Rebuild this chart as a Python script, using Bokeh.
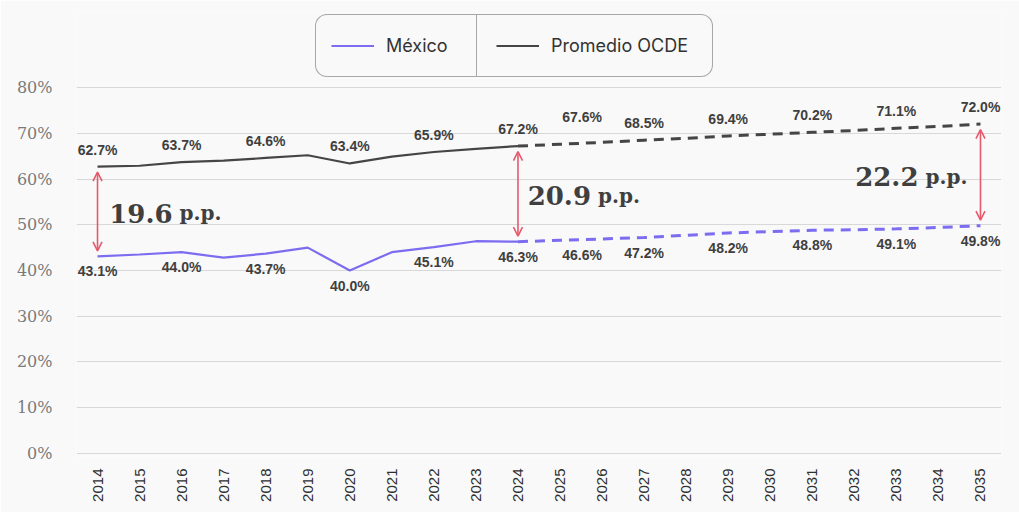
import numpy as np
from bokeh.plotting import figure
from bokeh.models import (ColumnDataSource, Range1d, FixedTicker, PrintfTickFormatter,
                          Arrow, OpenHead, Legend, LegendItem)
from bokeh.core.properties import value
from bokeh.embed import file_html
from bokeh.resources import INLINE

# ---------------- data ----------------
years_hist = [2014, 2015, 2016, 2017, 2018, 2019, 2020, 2021, 2022, 2023, 2024]
mexico_hist = [43.1, 43.5, 44.0, 42.8, 43.7, 45.0, 40.0, 44.0, 45.1, 46.4, 46.3]
oecd_hist = [62.7, 62.9, 63.7, 64.0, 64.6, 65.2, 63.4, 64.9, 65.9, 66.6, 67.2]

years_proj = [2024, 2025, 2026, 2027, 2028, 2029, 2030, 2031, 2032, 2033, 2034, 2035]
mexico_proj = [46.3, 46.6, 46.9, 47.2, 47.7, 48.2, 48.5, 48.8, 48.9, 49.1, 49.4, 49.8]
oecd_proj = [67.2, 67.6, 68.0, 68.5, 68.9, 69.4, 69.8, 70.2, 70.6, 71.1, 71.5, 72.0]

label_years = [2014, 2016, 2018, 2020, 2022, 2024, 2025, 2027, 2029, 2031, 2033, 2035]
gap_years = [2014, 2024, 2035]

year_ticks = list(range(2014, 2036))
y_ticks = [0, 10, 20, 30, 40, 50, 60, 70, 80]

# ---------------- derived ----------------
mex_all = dict(zip(years_hist, mexico_hist))
mex_all.update(dict(zip(years_proj, mexico_proj)))
oecd_all = dict(zip(years_hist, oecd_hist))
oecd_all.update(dict(zip(years_proj, oecd_proj)))

PURPLE = "#7b6cf0"
DARK = "#454545"
RED = "#e65a6e"
TXT = "#3f3f3f"
BG = "#f9f9f9"

p = figure(width=1019, height=512, output_backend="svg", toolbar_location=None,
           x_range=Range1d(2013.5, 2035.5), y_range=Range1d(-0.66, 96.4),
           min_border_left=76, min_border_right=18, min_border_top=12, min_border_bottom=56,
           background_fill_color=BG, border_fill_color=BG)
p.outline_line_color = None
p.xgrid.grid_line_color = None
p.ygrid.grid_line_color = "#d8d8d8"
p.ygrid.grid_line_width = 1.2
p.ygrid.ticker = FixedTicker(ticks=y_ticks)

# axes
p.yaxis.ticker = FixedTicker(ticks=y_ticks)
p.yaxis.formatter = PrintfTickFormatter(format="%d%%")
p.yaxis.axis_line_color = None
p.yaxis.major_tick_line_color = None
p.yaxis.minor_tick_line_color = None
p.yaxis.major_label_text_font = "DejaVu Serif"
p.yaxis.major_label_text_font_size = "16px"
p.yaxis.major_label_text_color = "#7a7a7a"
p.yaxis.major_label_standoff = 18

p.xaxis.ticker = FixedTicker(ticks=year_ticks)
p.xaxis.axis_line_color = None
p.xaxis.major_tick_line_color = None
p.xaxis.minor_tick_line_color = None
p.xaxis.major_label_orientation = np.pi / 2
p.xaxis.major_label_text_font = "Liberation Sans"
p.xaxis.major_label_text_font_size = "15px"
p.xaxis.major_label_text_color = "#2f2f2f"
p.xaxis.major_label_standoff = 6

# lines
r_mex = p.line(years_hist, mexico_hist, line_color=PURPLE, line_width=2.2)
r_oecd = p.line(years_hist, oecd_hist, line_color=DARK, line_width=2.2)
p.line(years_proj, mexico_proj, line_color=PURPLE, line_width=3, line_dash="10 7")
p.line(years_proj, oecd_proj, line_color=DARK, line_width=3, line_dash="10 7")

# value labels
lab_x_off = [22 if y == 2025 else 0 for y in label_years]
oecd_y_off = [-27 if y == 2025 else -17 for y in label_years]
mex_y_off = [15 for y in label_years]
src_lab = ColumnDataSource(dict(
    x=label_years,
    ym=[mex_all[y] for y in label_years],
    yo=[oecd_all[y] for y in label_years],
    tm=["%.1f%%" % mex_all[y] for y in label_years],
    to=["%.1f%%" % oecd_all[y] for y in label_years],
    xo=lab_x_off, yoo=oecd_y_off, ymo=mex_y_off,
))
common = dict(text_align="center", text_baseline="middle", text_font=value("Liberation Sans"),
              text_font_style="bold", text_font_size="14px", text_color=TXT)
p.text(x="x", y="yo", text="to", x_offset="xo", y_offset="yoo", source=src_lab, **common)
p.text(x="x", y="ym", text="tm", x_offset="xo", y_offset="ymo", source=src_lab, **common)

# gap arrows
split = [78, 76, -59]
src_gap = ColumnDataSource(dict(
    x=gap_years,
    y0=[mex_all[y] + 1.2 for y in gap_years],
    y1=[oecd_all[y] - 1.2 for y in gap_years],
    ymid=[(mex_all[y] + oecd_all[y]) / 2 for y in gap_years],
    num=["%.1f" % (oecd_all[y] - mex_all[y]) for y in gap_years],
    pp=["p.p." for y in gap_years],
    sn=[s - 3 for s in split],
    sp=[s + 4 for s in split],
))
p.add_layout(Arrow(x_start="x", y_start="y0", x_end="x", y_end="y1", source=src_gap,
                   line_color=RED, line_width=1.6,
                   start=OpenHead(size=9, line_color=RED, line_width=1.6),
                   end=OpenHead(size=9, line_color=RED, line_width=1.6)))
p.text(x="x", y="ymid", text="num", x_offset="sn", y_offset=2, source=src_gap,
       text_align="right", text_baseline="alphabetic", text_font=value("DejaVu Serif"),
       text_font_style="bold", text_font_size="26px", text_color=TXT)
p.text(x="x", y="ymid", text="pp", x_offset="sp", y_offset=2, source=src_gap,
       text_align="left", text_baseline="alphabetic", text_font=value("DejaVu Serif"),
       text_font_style="bold", text_font_size="20px", text_color=TXT)


# legend: two joined boxes so that a divider sits between the entries
def make_legend(label, renderer, loc, pad, glyph_h, label_w, radius):
    lg = Legend(items=[LegendItem(label=label, renderers=[renderer])],
                orientation="horizontal", location=loc)
    lg.border_line_color = "#555555"
    lg.border_line_width = 1.5
    lg.background_fill_color = BG
    lg.background_fill_alpha = 1
    lg.label_text_font = "Inter"
    lg.label_text_font_size = "18px"
    lg.label_text_color = "#333333"
    lg.glyph_width = 43
    lg.glyph_height = glyph_h
    lg.label_standoff = 12
    lg.label_width = label_w
    lg.padding = pad
    lg.margin = 0
    try:
        lg.border_radius = radius
    except Exception:
        pass
    return lg


p.add_layout(make_legend("México", r_mex, (239, 379), 15, 31, 77, (12, 0, 0, 12)))
p.add_layout(make_legend("Promedio OCDE", r_oecd, (400, 379), 19, 23, 142, (0, 12, 12, 0)))

open("out.html", "w").write(file_html(p, INLINE))
